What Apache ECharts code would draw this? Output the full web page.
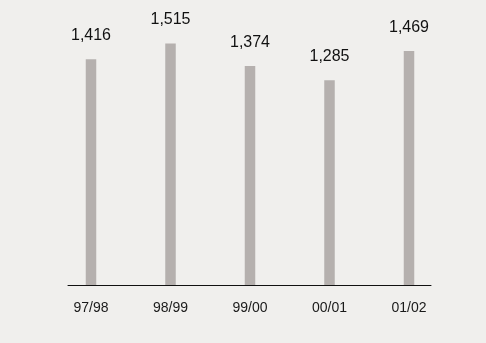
<!DOCTYPE html>
<html>
<head>
<meta charset="utf-8">
<style>
  html, body { margin: 0; padding: 0; background: #f0efed; }
  #chart { width: 486px; height: 343px; }
</style>
<script src="https://cdn.jsdelivr.net/npm/echarts@6/dist/echarts.min.js"></script>
</head>
<body>
<div id="chart"></div>
<script>
// Yearly totals by financial year
const categories = ['97/98', '98/99', '99/00', '00/01', '01/02'];
const totals = [1416, 1515, 1374, 1285, 1469];

const chart = echarts.init(document.getElementById('chart'), null, { renderer: 'canvas' });

const fontFamily = '"Liberation Sans", Arial, Helvetica, sans-serif';

chart.setOption({
  backgroundColor: '#f0efed',
  animation: false,
  grid: [
    // bars
    { left: 51.25, right: 37.25, top: 30, bottom: 58 },
    // baseline rule under the bars
    { left: 68, right: 55, top: 30, bottom: 58 }
  ],
  xAxis: [
    {
      type: 'category',
      gridIndex: 0,
      data: categories,
      axisLine: { show: false },
      axisTick: { show: false },
      axisLabel: {
        color: '#1a1a1a',
        fontFamily: fontFamily,
        fontSize: 14,
        margin: 16
      }
    },
    {
      type: 'value',
      gridIndex: 1,
      min: 0,
      max: 1,
      axisLine: { show: true, lineStyle: { color: '#111', width: 1 } },
      axisTick: { show: false },
      axisLabel: { show: false },
      splitLine: { show: false }
    }
  ],
  yAxis: [
    {
      type: 'value',
      gridIndex: 0,
      min: 0,
      max: 1600,
      show: false,
      splitLine: { show: false }
    },
    {
      type: 'value',
      gridIndex: 1,
      min: 0,
      max: 1,
      show: false
    }
  ],
  series: [
    {
      type: 'bar',
      xAxisIndex: 0,
      yAxisIndex: 0,
      data: totals,
      barWidth: 10.5,
      itemStyle: { color: '#b5b0ae' },
      label: {
        show: true,
        position: 'top',
        distance: 15.5,
        color: '#111',
        fontFamily: fontFamily,
        fontSize: 16,
        formatter: p => p.value.toLocaleString('en-US')
      }
    }
  ]
});
</script>
</body>
</html>
